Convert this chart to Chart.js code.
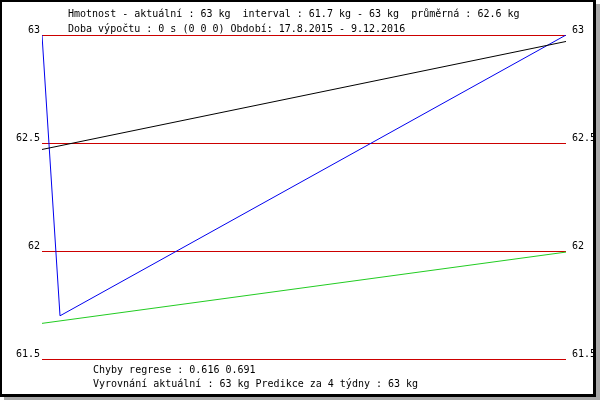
<!DOCTYPE html>
<html><head><meta charset="utf-8">
<script src="https://cdn.jsdelivr.net/npm/chart.js@4"></script>
<style>html,body{margin:0;padding:0;background:#fff}canvas{display:block}</style>
</head><body>
<canvas id="c" width="600" height="400"></canvas>
<script>
// days since 17.8.2015
const blueX = [0, 16.5, 480];
const blueY = [63, 61.7, 63];
const blackX = [0, 480];
const blackY = [62.47, 62.97];
const greenX = [0, 480];
const greenY = [61.665, 61.995];
const yMin = 61.5, yMax = 63, yStep = 0.5;
const headerLines = [
  "Hmotnost - aktuální : 63 kg  interval : 61.7 kg - 63 kg  průměrná : 62.6 kg",
  "Doba výpočtu : 0 s (0 0 0) Období: 17.8.2015 - 9.12.2016"
];
const footerLines = [
  "Chyby regrese : 0.616 0.691",
  "Vyrovnání aktuální : 63 kg Predikce za 4 týdny : 63 kg"
];
const FONT = "10px 'DejaVu Sans Mono', monospace";

const pts = (xs, ys) => xs.map((x, i) => ({x, y: ys[i]}));
const fmt = v => String(+(+v).toFixed(2));

const framePlugin = {
  id: 'frame',
  beforeDraw(chart) {
    const ctx = chart.ctx;
    ctx.save();
    ctx.fillStyle = '#fff';
    ctx.fillRect(0, 0, 600, 400);
    ctx.fillStyle = '#a8a8a8';
    ctx.fillRect(4, 4, 596, 396);
    ctx.fillStyle = '#000';
    ctx.fillRect(0, 0, 596, 397);
    ctx.fillStyle = '#fff';
    ctx.fillRect(2, 2, 591, 392);
    ctx.restore();
  },
  afterDraw(chart) {
    const ctx = chart.ctx;
    ctx.save();
    ctx.font = FONT;
    ctx.fillStyle = '#000';
    ctx.textBaseline = 'alphabetic';
    ctx.textAlign = 'left';
    ctx.fillText(headerLines[0], 68, 17);
    ctx.fillText(headerLines[1], 68, 32);
    ctx.fillText(footerLines[0], 93, 373);
    ctx.fillText(footerLines[1], 93, 387);
    ctx.restore();
  }
};

const tickFont = {family: "'DejaVu Sans Mono', monospace", size: 10};

new Chart(document.getElementById('c'), {
  type: 'scatter',
  data: {
    datasets: [
      {data: pts(blackX, blackY), borderColor: '#000000', showLine: true, borderWidth: 1, pointRadius: 0, yAxisID: 'y'},
      {data: pts(greenX, greenY), borderColor: '#22cc22', showLine: true, borderWidth: 1, pointRadius: 0, yAxisID: 'y'},
      {data: pts(blueX, blueY), borderColor: '#0000ee', showLine: true, borderWidth: 1, pointRadius: 0, yAxisID: 'y'}
    ]
  },
  options: {
    responsive: false,
    animation: false,
    layout: {padding: {top: 35, bottom: 41, left: 0, right: 0}},
    plugins: {legend: {display: false}, tooltip: {enabled: false}},
    scales: {
      x: {type: 'linear', display: false, min: 0, max: 480},
      y: {
        position: 'left', min: yMin, max: yMax,
        afterFit(s) { s.width = 42; },
        border: {display: false},
        grid: {color: '#cc0000', drawTicks: false, lineWidth: 1},
        ticks: {stepSize: yStep, padding: 2, labelOffset: -5, color: '#000', font: tickFont, callback: fmt}
      },
      y2: {
        position: 'right', min: yMin, max: yMax,
        afterFit(s) { s.width = 34; },
        border: {display: false},
        grid: {display: false, drawTicks: false},
        ticks: {stepSize: yStep, padding: 6, labelOffset: -5, color: '#000', font: tickFont, callback: fmt}
      }
    }
  },
  plugins: [framePlugin]
});
</script>
</body></html>
